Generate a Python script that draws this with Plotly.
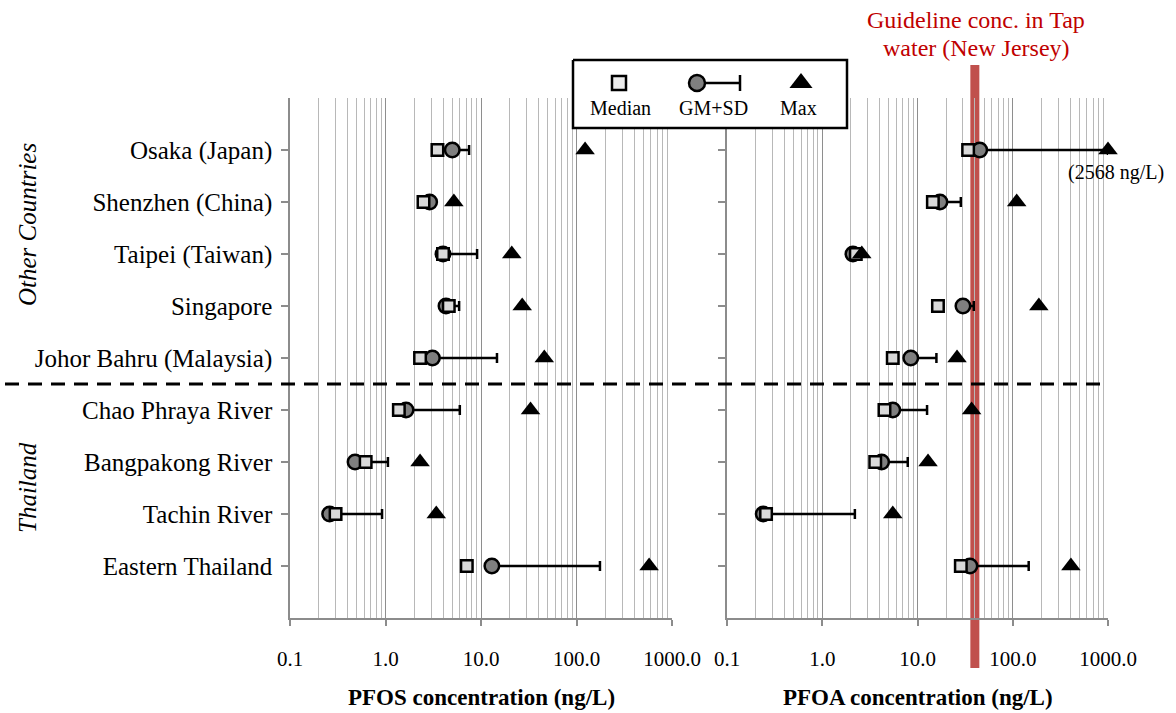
import math
import plotly.graph_objects as go

W, H = 1176, 713
SERIF = "Liberation Serif"

# ---- data -------------------------------------------------------------
SITES = ["Osaka (Japan)", "Shenzhen (China)", "Taipei (Taiwan)", "Singapore",
         "Johor Bahru (Malaysia)", "Chao Phraya River", "Bangpakong River",
         "Tachin River", "Eastern Thailand"]
GROUP_LABELS = ["Other Countries", "Thailand"]

# PFOS (ng/L)
PFOS_MEDIAN = [3.5, 2.5, 4.0, 4.6, 2.3, 1.38, 0.62, 0.30, 7.1]
PFOS_GM = [5.0, 2.9, 4.0, 4.3, 3.1, 1.64, 0.48, 0.26, 13.0]
PFOS_GM_SD = [7.5, 3.2, 9.1, 5.9, 14.7, 6.0, 1.06, 0.92, 176.0]
PFOS_MAX = [123, 5.2, 21, 27, 46, 33, 2.3, 3.4, 576]

# PFOA (ng/L)
PFOA_MEDIAN = [34, 14.5, 2.25, 16.4, 5.5, 4.5, 3.6, 0.257, 28.5]
PFOA_GM = [45, 17.2, 2.1, 30, 8.5, 5.5, 4.2, 0.24, 35.5]
PFOA_GM_SD = [1000, 28.5, 2.2, 39, 15.8, 12.6, 7.9, 2.2, 147]
PFOA_MAX = [2568, 110, 2.6, 188, 26, 37, 12.9, 5.5, 408]

GUIDELINE_PFOA = 40  # New Jersey tap-water guideline (ng/L)

X_TICKS = [0.1, 1, 10, 100, 1000]
X_TICK_TEXT = ["0.1", "1.0", "10.0", "100.0", "1000.0"]
X_MAX = X_TICKS[-1]

N_OTHER = 5  # first five sites are outside Thailand

# ---- layout helpers ---------------------------------------------------
rows = list(range(1, len(SITES) + 1))
minor_vals = [m * 10 ** e for e in range(-1, 3) for m in range(2, 10)]


def px_x(p):
    return p / W


def px_y(p):
    return 1 - p / H


PLOT_TOP, PLOT_BOT = 98, 618
LEFT_DOM = [px_x(290), px_x(672)]
RIGHT_DOM = [px_x(727), px_x(1108)]
Y_DOM = [px_y(PLOT_BOT), px_y(PLOT_TOP)]

fig = go.Figure()


def add_panel(xa, ya, med, gm, gm_sd, mx):
    shown_max = [min(v, X_MAX) for v in mx]
    fig.add_trace(go.Scatter(
        x=gm, y=rows, xaxis=xa, yaxis=ya, mode="markers", cliponaxis=False,
        marker=dict(symbol="circle", size=14.5, color="#7f7f7f",
                    line=dict(color="black", width=2.5)),
        error_x=dict(type="data", symmetric=False,
                     array=[s - g for s, g in zip(gm_sd, gm)],
                     arrayminus=[0] * len(gm),
                     color="black", thickness=2.5, width=5),
        showlegend=False, hoverinfo="skip"))
    fig.add_trace(go.Scatter(
        x=med, y=rows, xaxis=xa, yaxis=ya, mode="markers", cliponaxis=False,
        marker=dict(symbol="square", size=11.5, color="#d9d9d9",
                    line=dict(color="black", width=2.5)),
        showlegend=False, hoverinfo="skip"))
    fig.add_trace(go.Scatter(
        x=shown_max, y=rows, xaxis=xa, yaxis=ya, mode="markers",
        cliponaxis=False,
        marker=dict(symbol="triangle-up", size=17, color="black",
                    line=dict(width=0)),
        showlegend=False, hoverinfo="skip"))


add_panel("x", "y", PFOS_MEDIAN, PFOS_GM, PFOS_GM_SD, PFOS_MAX)
add_panel("x2", "y2", PFOA_MEDIAN, PFOA_GM, PFOA_GM_SD, PFOA_MAX)

# ---- key box (drawn on a full-page overlay in pixel units) -------------
BOX = dict(x0=573, x1=847, y0=60, y1=128)
KEY_Y = 83
fig.add_trace(go.Scatter(
    x=[BOX["x0"], BOX["x1"], BOX["x1"], BOX["x0"], BOX["x0"]],
    y=[BOX["y0"], BOX["y0"], BOX["y1"], BOX["y1"], BOX["y0"]],
    xaxis="x3", yaxis="y3", mode="lines", fill="toself",
    fillcolor="white", line=dict(color="black", width=2.5),
    showlegend=False, hoverinfo="skip"))
fig.add_trace(go.Scatter(
    x=[697], y=[KEY_Y], xaxis="x3", yaxis="y3", mode="markers",
    marker=dict(symbol="circle", size=16, color="#7f7f7f",
                line=dict(color="black", width=2.5)),
    error_x=dict(type="data", symmetric=False, array=[43], arrayminus=[0],
                 color="black", thickness=2.5, width=8),
    showlegend=False, hoverinfo="skip"))
fig.add_trace(go.Scatter(
    x=[619], y=[KEY_Y], xaxis="x3", yaxis="y3", mode="markers",
    marker=dict(symbol="square", size=14, color="#ececec",
                line=dict(color="black", width=2.5)),
    showlegend=False, hoverinfo="skip"))
fig.add_trace(go.Scatter(
    x=[801], y=[KEY_Y], xaxis="x3", yaxis="y3", mode="markers",
    marker=dict(symbol="triangle-up", size=20, color="black",
                line=dict(width=0)),
    showlegend=False, hoverinfo="skip"))


def note(text, xc, yc, size, color="black", angle=0):
    return dict(text=text, x=px_x(xc), y=px_y(yc), xref="paper",
                yref="paper", xanchor="center", yanchor="middle",
                showarrow=False, textangle=angle,
                font=dict(family=SERIF, size=size, color=color))


annotations = []
for text, xc in [("Median", 621), ("GM+SD", 713), ("Max", 799)]:
    annotations.append(note(text, xc, 108, 20))

# group labels
annotations.append(note("<i>" + GROUP_LABELS[0] + "</i>", 27, 225, 25,
                        angle=-90))
annotations.append(note("<i>" + GROUP_LABELS[1] + "</i>", 27, 488, 25,
                        angle=-90))

# axis titles
for text, xc in [("PFOS concentration (ng/L)", 481),
                 ("PFOA concentration (ng/L)", 918)]:
    annotations.append(note("<b>" + text + "</b>", xc, 697, 23))

# guideline caption, two lines
annotations.append(note("Guideline conc. in Tap", 976, 20, 24,
                        color="#c00000"))
annotations.append(note("water (New Jersey)", 976, 48, 24,
                        color="#c00000"))

# off-scale maximum note
annotations.append(dict(text=f"({PFOA_MAX[0]} ng/L)",
                        x=math.log10(min(PFOA_MAX[0], X_MAX)), y=rows[0],
                        xref="x2", yref="y2", showarrow=False,
                        xanchor="center", yanchor="middle",
                        xshift=8, yshift=-22,
                        font=dict(family=SERIF, size=20, color="black")))

BAR = dict(color="#c0504d", width=9)
shapes = [
    # guideline bar: above the plot area, inside it, and below it
    dict(type="line", xref="x2", yref="paper",
         x0=GUIDELINE_PFOA, x1=GUIDELINE_PFOA,
         y0=px_y(PLOT_TOP), y1=px_y(65), layer="below", line=BAR),
    dict(type="line", xref="x2", yref="y2",
         x0=GUIDELINE_PFOA, x1=GUIDELINE_PFOA,
         y0=0, y1=len(SITES) + 1, layer="below", line=BAR),
    dict(type="line", xref="x2", yref="paper",
         x0=GUIDELINE_PFOA, x1=GUIDELINE_PFOA,
         y0=px_y(668), y1=px_y(PLOT_BOT), layer="below", line=BAR),
    # separator between foreign sites and Thai sites
    dict(type="line", xref="paper", yref="y", x0=px_x(5), x1=px_x(1100),
         y0=N_OTHER + 0.5, y1=N_OTHER + 0.5, layer="above",
         line=dict(color="black", width=3, dash="14px,9px")),
]

AX_GRAY = "#8c8c8c"
xaxis_common = dict(
    type="log", range=[math.log10(X_TICKS[0]), math.log10(X_TICKS[-1])],
    tickmode="array", tickvals=X_TICKS, ticktext=X_TICK_TEXT,
    ticks="outside", ticklen=6, tickwidth=1.5, tickcolor=AX_GRAY,
    showline=True, linecolor=AX_GRAY, linewidth=1.5,
    showgrid=True, gridcolor="#8e8e8e", gridwidth=1.3,
    minor=dict(tickvals=minor_vals, showgrid=True, gridcolor="#b8b8b8",
               gridwidth=1.1, ticks=""),
    zeroline=False, ticklabelstandoff=15, automargin=False,
    tickfont=dict(family=SERIF, size=21, color="black"),
)
yaxis_common = dict(
    range=[len(SITES) + 1, 0], tickmode="array", tickvals=rows,
    ticktext=SITES, ticks="outside", ticklen=7, tickwidth=1.5,
    tickcolor=AX_GRAY, showline=True, linecolor=AX_GRAY, linewidth=1.5,
    showgrid=False, zeroline=False, domain=Y_DOM, automargin=False,
    tickfont=dict(family=SERIF, size=25, color="black"),
)

fig.update_layout(
    width=W, height=H,
    margin=dict(l=0, r=0, t=0, b=0, pad=0, autoexpand=False),
    paper_bgcolor="white", plot_bgcolor="rgba(0,0,0,0)", showlegend=False,
    xaxis=dict(domain=LEFT_DOM, anchor="y", **xaxis_common),
    xaxis2=dict(domain=RIGHT_DOM, anchor="y2", **xaxis_common),
    yaxis=dict(anchor="x", ticklabelstandoff=4, **yaxis_common),
    yaxis2=dict(anchor="x2", showticklabels=False, **yaxis_common),
    xaxis3=dict(domain=[0, 1], range=[0, W], visible=False, anchor="y3",
                fixedrange=True),
    yaxis3=dict(domain=[0, 1], range=[H, 0], visible=False, anchor="x3",
                fixedrange=True),
    annotations=annotations, shapes=shapes,
)

fig.write_html("out.html")
